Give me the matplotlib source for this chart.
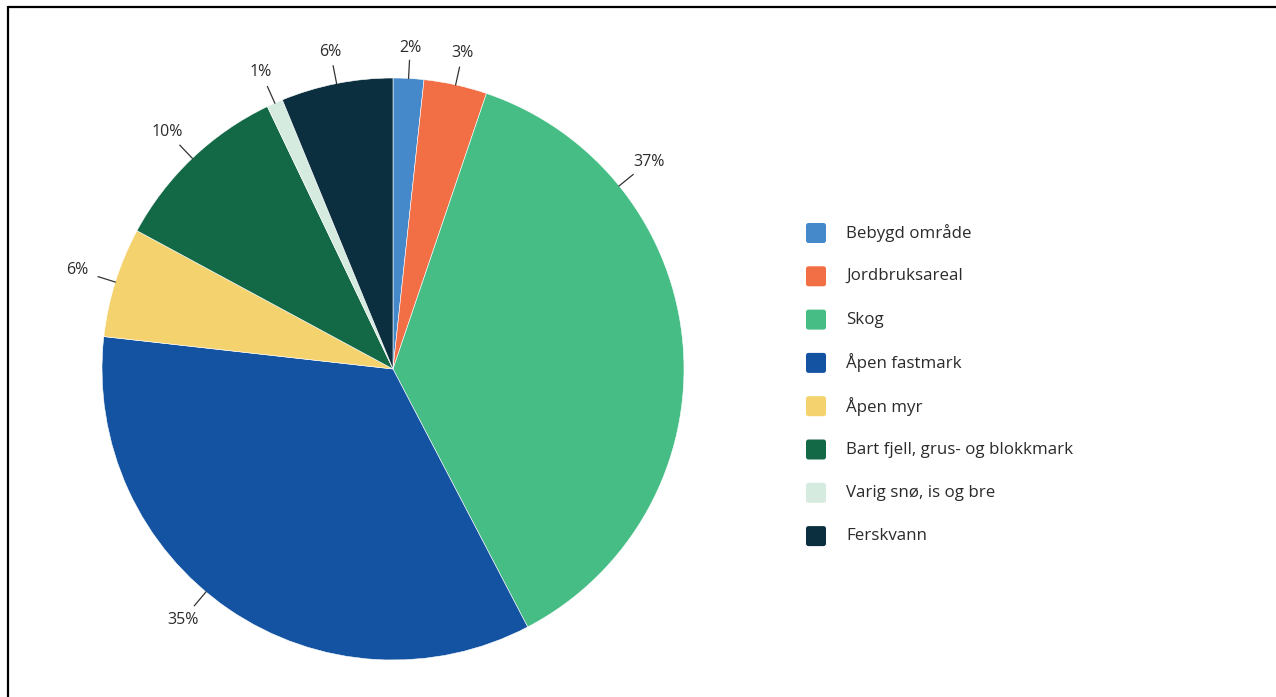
import numpy as np
import matplotlib
matplotlib.use("Agg")
import matplotlib.pyplot as plt
from matplotlib.patches import FancyBboxPatch
from matplotlib.lines import Line2D

categories = ["Bebygd område", "Jordbruksareal", "Skog", "Åpen fastmark",
              "Åpen myr", "Bart fjell, grus- og blokkmark", "Varig snø, is og bre", "Ferskvann"]
values = [1.7, 3.5, 37.1, 34.4, 6.1, 10.0, 0.9, 6.2]
labels = ["2%", "3%", "37%", "35%", "6%", "10%", "1%", "6%"]
colors = ["#4589CB", "#F26E45", "#45BD84", "#1353A2", "#F4D36E", "#136846", "#D6EBDF", "#0C2F40"]

# label placement angle overrides (degrees clockwise from top), layout only
label_angle_override = {2: 51.0, 3: 220.0}

W, H = 1276, 697
fig = plt.figure(figsize=(W / 100, H / 100), dpi=100)
fig.patch.set_facecolor("white")
plt.rcParams["font.family"] = ["Open Sans", "DejaVu Sans"]

cx, cy, R = 393, 369, 291
ax = fig.add_axes([(cx - R) / W, (H - cy - R) / H, 2 * R / W, 2 * R / H])
ax.pie(values, colors=colors, startangle=90, counterclock=False, radius=1,
       wedgeprops=dict(edgecolor="white", linewidth=0.4))
ax.set_xlim(-1, 1)
ax.set_ylim(-1, 1)
ax.set_aspect("auto")
ax.axis("off")

total = sum(values)
cum = 0
for i, (v, lab) in enumerate(zip(values, labels)):
    mid = (cum + v / 2) / total * 360
    cum += v
    ang = label_angle_override.get(i, mid)
    th = np.deg2rad(ang)
    s, c = np.sin(th), np.cos(th)
    r0, r1 = 1.0, 1 + 18 / R
    ax.plot([r0 * s, r1 * s], [r0 * c, r1 * c], color="#333333", lw=0.9, clip_on=False)
    rl = 1 + (30 + 10 * abs(s)) / R
    ax.text(rl * s, rl * c, lab, ha="center", va="center", fontsize=11.5,
            color="#2b2b2b", clip_on=False)

# legend drawn in pixel coordinates
lax = fig.add_axes([0, 0, 1, 1], facecolor="none")
lax.set_xlim(0, W)
lax.set_ylim(H, 0)
lax.axis("off")
y0, dy = 233, 43.3
for i, (cat, col) in enumerate(zip(categories, colors)):
    y = y0 + i * dy
    lax.add_patch(FancyBboxPatch((806, y - 10), 20, 20,
                                 boxstyle="round,pad=0,rounding_size=2.5",
                                 facecolor=col, edgecolor="none"))
    lax.text(846, y, cat, ha="left", va="center", fontsize=12.2, color="#2b2b2b")

# frame
lax.add_line(Line2D([7.5, W], [6.5, 6.5], color="black", lw=1.6, solid_capstyle="butt"))
lax.add_line(Line2D([7.5, 7.5], [5.9, H], color="black", lw=1.6, solid_capstyle="butt"))

fig.savefig("out.png", dpi=100, facecolor="white")
